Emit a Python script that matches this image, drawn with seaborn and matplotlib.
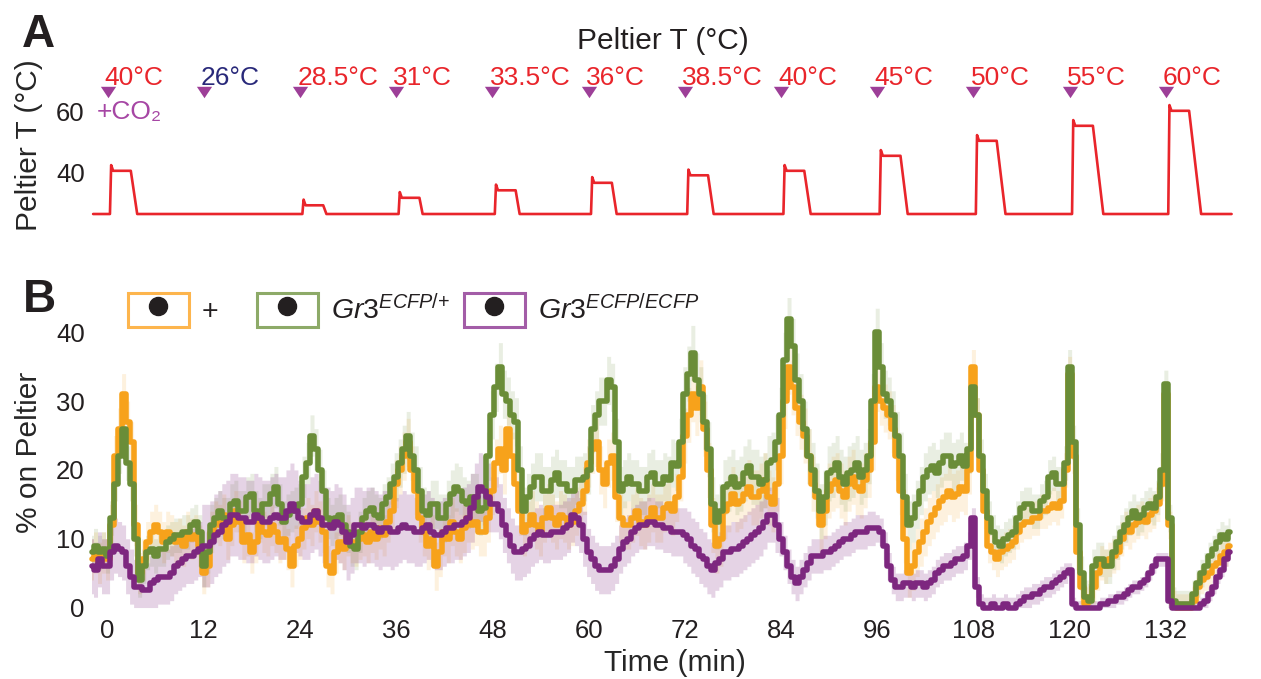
import numpy as np
import pandas as pd
import seaborn as sns
import matplotlib.pyplot as plt
from matplotlib.patches import Patch
from matplotlib.lines import Line2D
from matplotlib.legend_handler import HandlerTuple

sns.set_style('white')
plt.rcParams['font.family'] = ['Liberation Sans', 'DejaVu Sans']
plt.rcParams['mathtext.fontset'] = 'custom'
plt.rcParams['mathtext.it'] = 'Liberation Sans:italic'
plt.rcParams['mathtext.rm'] = 'Liberation Sans'
plt.rcParams['text.color'] = '#231F20'

# ---- panel A: Peltier steps ----
event_min = [0, 12, 24, 36, 48, 60, 72, 84, 96, 108, 120, 132]
event_temp = [40, 26, 28.5, 31, 33.5, 36, 38.5, 40, 45, 50, 55, 60]
event_label = ['40°C', '26°C', '28.5°C', '31°C', '33.5°C', '36°C',
               '38.5°C', '40°C', '45°C', '50°C', '55°C', '60°C']
fall_end = [3.7, 15.0, 27.3, 39.3, 51.4, 63.5, 75.6, 87.7, 99.8, 112.0, 124.2, 136.4]
peltier_base = 26
overshoot = 2.3
plateau_offset = 0.4

# ---- panel B: % on Peltier, every 0.5 min from -2 to 140 ----
time_min = np.arange(-2, 140.5, 0.5)

pct_plus = [7, 8, 6.5, 8,
            7, 12, 22, 26, 31, 27, 24, 12, 5, 7, 9.5, 11, 12, 11, 9.5, 11, 10.5, 9.5, 10, 9, 11, 10, 10.5, 9,
            5, 6, 11, 12.5, 12, 13.5, 10, 12, 14, 12.5, 9.5, 10.5, 8, 9.5, 12.5, 11, 10.5, 12, 11, 9.5, 10, 8.5, 6, 9,
            10, 11.5, 13, 12, 14, 12.5, 11, 6, 5, 8, 9.5, 8.5, 10.5, 9.5, 9, 10, 10.5, 9.5, 11, 10, 11.5, 10.5, 12.5, 14,
            18, 20, 22, 24, 20, 17, 13, 11, 9, 10, 6, 8, 11, 10, 12.5, 11, 10, 11.5, 13, 12, 12.5, 11, 11, 13,
            17, 21, 23, 20, 26, 22, 18, 14, 11, 12, 13.5, 12, 11, 13, 14.5, 13, 12, 13.5, 13, 12, 12.5, 14, 15, 17,
            21, 23, 24, 20, 18, 21, 22, 16, 13, 12, 12, 13, 14, 12.5, 12, 13, 14.5, 13, 13, 14.5, 15, 14, 16, 19,
            25, 28, 31, 29, 32, 26, 20, 12, 9, 10, 14, 15, 16.5, 15, 15.5, 16.5, 17.5, 16, 16, 17, 18.5, 16, 15, 18,
            22, 30, 35, 32, 29, 27, 25, 22, 18, 16, 12, 14, 17, 18, 18.5, 17, 16, 18, 19, 17.5, 17, 18.5, 20, 24,
            32, 30, 29, 28, 26, 22, 17, 10, 5, 6, 8, 9.5, 11, 12.5, 13.5, 14.5, 15.5, 16, 17, 16, 16.5, 17.5, 17, 20,
            35, 28, 20, 14, 9, 8, 7, 8, 8.5, 9, 9.5, 11, 12, 12.5, 12.5, 13, 13, 14, 14, 14.5, 15, 14.5, 15.5, 20,
            34, 22, 8, 3, 0.5, 1.5, 3, 5, 6.5, 6, 7, 7.5, 8, 10, 11.5, 11, 12, 12.5, 13, 12.5, 13.5, 14, 15, 18,
            31, 12, 0.5, 0, 0, 0, 0, 1, 3, 4, 4.5, 5, 6, 6.5, 7.5, 8, 9]

pct_het = [8, 9, 8, 8.5,
           7.5, 13, 18, 22, 26, 21, 18, 10, 4, 6, 8, 8.5, 7.5, 8.5, 8.5, 9.5, 10, 10.5, 10.5, 11, 11, 12, 12.5, 11,
           6, 8, 12, 13, 14, 13, 13, 15, 15.5, 14, 14, 16, 16.5, 14, 13, 15, 15, 16.5, 17.5, 15, 12.5, 13.5, 14, 14.5,
           15, 19, 21, 25, 23, 20, 17, 13, 12, 13, 13.5, 12, 11, 9, 8.5, 11, 13, 14, 14.5, 13.5, 13, 15, 16, 18,
           19, 21, 23, 25, 22, 20, 17, 14, 13.5, 15, 15, 13, 13, 15, 16.5, 17.5, 17, 15.5, 15, 16, 16, 14, 14.5, 22,
           28, 32, 35, 31, 30, 28, 27, 20, 14, 16, 17.5, 19, 19, 17, 17, 18.5, 19.5, 18, 18, 17, 17, 18.5, 18.5, 19,
           20, 26, 28, 30, 30, 33, 32, 24, 17, 18, 19, 18, 18, 17, 17, 19, 19.5, 18, 18, 19, 18.5, 21, 20.5, 24,
           31, 34, 37, 33, 31, 27, 23, 15, 12.5, 14, 17.5, 18, 19, 17.5, 18, 19.5, 20.5, 19, 19, 18, 18.5, 21, 21.5, 24,
           28, 36, 42, 38, 33, 30, 26, 22, 20, 17, 14, 16, 19.5, 20, 21, 19, 18, 19.5, 20, 21, 19, 20, 22, 30,
           40, 35, 31, 30, 28, 25, 22, 16, 12, 13, 15, 17, 19, 20, 20.5, 19.5, 21, 22, 22, 20.5, 21, 22, 20.5, 23,
           32, 28, 22, 17, 13, 11, 9.5, 9, 10, 10.5, 11, 13, 14.5, 15, 15, 14, 14, 15.5, 16, 19, 19.5, 18, 18, 21,
           35, 24, 12, 5, 1.5, 1, 6, 7, 7, 6, 6, 8, 9.5, 11, 12, 13, 14, 13, 13.5, 14.5, 15, 14.5, 16, 20,
           32.5, 13, 1, 0.5, 0.5, 0.5, 0.5, 2, 3.5, 5, 6, 7.5, 8.5, 9.5, 10.5, 10, 11]

pct_hom = [6, 5.5, 7, 6,
           6, 8, 9, 8.5, 8, 6, 4.5, 3, 3, 2.5, 2.5, 3.5, 4, 4.5, 4.5, 4.5, 5, 6, 6.5, 7, 7.5, 7.5, 8, 8.5,
           9, 9, 9.5, 10.5, 11, 12, 12.5, 13.5, 13.5, 13, 13, 12.5, 12.5, 13.5, 13, 12.5, 12.5, 13, 13.5, 13, 13, 14, 15, 14,
           13, 12.5, 12.5, 13.5, 14, 13, 12, 12, 11.5, 12.5, 12, 11, 9.5, 10.5, 12, 12, 11.5, 12, 12, 11.5, 11, 11.5, 11.5, 11,
           11, 11.5, 12, 11.5, 11.5, 11, 11, 11.5, 12, 11, 10.5, 10.5, 11, 11.5, 11.5, 12, 12, 12.5, 13, 14.5, 16, 17.5, 17, 16,
           15, 15, 14, 12, 10.5, 9, 8, 8, 8.5, 9, 10, 10.5, 11, 10.5, 10.5, 11, 11, 11, 11.5, 12, 13.5, 13, 12, 10,
           8, 7, 6, 5.5, 5.5, 5.5, 6, 7, 8.5, 9.5, 10, 11, 11.5, 12, 12, 12.5, 12.5, 12, 12, 11.5, 11.5, 11, 11, 11,
           10.5, 10, 9, 8.5, 7.5, 7, 6, 5.5, 6.5, 7, 8, 8, 8.5, 8.5, 9, 9.5, 10, 10.5, 11, 11.5, 12.5, 13.5, 13.5, 12,
           10, 8, 6, 4.5, 3.5, 4.5, 5.5, 6.5, 7.5, 7.5, 7.5, 8, 8, 8.5, 9, 9.5, 10, 10, 10.5, 11, 11, 11, 11.5, 11.5,
           11.5, 11, 9, 6, 4, 3, 3, 3.5, 3.5, 3, 3.5, 3.5, 3, 3.5, 4, 5, 5.5, 6, 6, 6.5, 7, 7, 7.5, 9,
           13, 3, 0.5, 0, 0, 0.5, 0, 0, 0.5, 0, 0, 0.5, 1, 1.5, 1.5, 2, 2, 2.5, 3, 3, 3.5, 4, 4.5, 5,
           5.5, 0.5, 0, 0, 0, 0, 0, 0, 0.5, 0.5, 1, 1, 1.5, 1.5, 2, 2.5, 3, 3, 3.5, 4, 5, 6, 7, 7,
           7, 1, 0, 0, 0, 0, 0, 0, 0, 0.5, 1, 2, 3, 4.5, 5.5, 7, 8]

# s.e.m. per 12-min block (one value per Peltier step)
sem_plus = [3, 3, 3, 3.5, 3.5, 3.5, 4, 4, 3.5, 2.5, 2.5, 2]
sem_het = [2.5, 3, 3, 3.5, 3.5, 3.5, 4, 4, 3.5, 2.5, 2.5, 2]
sem_hom = [4, 6, 5.5, 5, 4, 3.5, 4, 2.5, 2, 1.5, 1, 1]

genotypes = ['+', 'Gr3ECFP/+', 'Gr3ECFP/ECFP']
line_colors = ['#F7A21B', '#6A8D38', '#7D277F']
box_colors = ['#FDB54D', '#8DAA68', '#A35DA7']
band_alpha = [0.14, 0.14, 0.2]
legend_labels = ['+', r'$\mathit{Gr3}^{\mathit{ECFP/{+}}}$', r'$\mathit{Gr3}^{\mathit{ECFP/ECFP}}$']
legend_x = [128, 257, 464]

RED = '#E9252B'
NAVY = '#29297A'
MARK = '#9D3F98'
INK = '#231F20'

W, H = 1261, 679
fig = plt.figure(figsize=(W / 100, H / 100), dpi=100)
axA = fig.add_axes([87.5 / W, (H - 230) / H, 1146.5 / W, 170 / H])
axB = fig.add_axes([87.5 / W, (H - 615.8) / H, 1146.5 / W, 317.9 / H])

# panel A trace
pel_t = [-1.8]
pel_T = [peltier_base]
for on, temp, off in zip(event_min, event_temp, fall_end):
    if temp <= peltier_base:
        continue
    pel_t += [on + 0.3, on + 0.45, on + 0.7, on + 2.9, off]
    pel_T += [peltier_base, temp + overshoot, temp + plateau_offset,
              temp + plateau_offset, peltier_base]
pel_t.append(140.2)
pel_T.append(peltier_base)
pel = pd.DataFrame({'time': pel_t, 'temp': pel_T})
sns.lineplot(data=pel, x='time', y='temp', sort=False, estimator=None,
             color=RED, linewidth=1.9, ax=axA)

marks = pd.DataFrame({'time': event_min, 'y': [66.7] * len(event_min)})
sns.scatterplot(data=marks, x='time', y='y', ax=axA, color=MARK, s=120, linewidth=0,
                marker=[(-1, 0.75), (1, 0.75), (0, -0.75)], clip_on=False)
for t, lab, temp in zip(event_min, event_label, event_temp):
    axA.text(t - 0.35, 69, lab, fontsize=19, va='baseline', ha='left',
             color=NAVY if temp == peltier_base else RED)
axA.text(-1.3, 60, '+CO₂', fontsize=19, va='center', ha='left', color='#A646A4')

axA.set_xlim(-2.5, 140.5)
axA.set_ylim(20.67, 77.33)
axA.set_yticks([40, 60])
axA.set_xticks([])
axA.set_xlabel('')
axA.set_ylabel('Peltier T (°C)', fontsize=21.5)
axA.yaxis.set_label_coords(-0.0388, 0.5)
axA.tick_params(axis='y', length=0, pad=2, labelsize=18.5, labelcolor=INK)

# panel B traces
df = pd.DataFrame({
    'time': np.tile(time_min, 3),
    'pct': np.concatenate([pct_plus, pct_het, pct_hom]),
    'genotype': np.repeat(genotypes, len(time_min)),
})
seg = np.clip(np.searchsorted(event_min, time_min, side='right') - 1, 0, None)
for name, sem, c, a in zip(genotypes, [sem_plus, sem_het, sem_hom], line_colors, band_alpha):
    m = df.loc[df['genotype'] == name, 'pct'].to_numpy()
    s = np.array(sem)[seg]
    axB.fill_between(time_min, np.clip(m - s, 0, None), m + s, step='mid',
                     color=c, alpha=a, linewidth=0)
sns.lineplot(data=df, x='time', y='pct', hue='genotype', hue_order=genotypes,
             palette=dict(zip(genotypes, line_colors)), drawstyle='steps-mid',
             linewidth=4.0, legend=False, errorbar=None, ax=axB)

axB.set_xlim(-2.5, 140.5)
axB.set_ylim(-1.2, 45)
axB.set_xticks(event_min)
axB.set_yticks([0, 10, 20, 30, 40])
axB.tick_params(length=0, labelsize=18.5, labelcolor=INK)
axB.tick_params(axis='x', pad=2)
axB.tick_params(axis='y', pad=2)
axB.set_xlabel('Time (min)', fontsize=21.5)
axB.set_ylabel('% on Peltier', fontsize=21.5)
axB.xaxis.set_label_coords(0.512, -0.105)
axB.yaxis.set_label_coords(-0.0388, 0.515)

# legend: one entry per box so each sits where the original puts it
for ec, lab, lx in zip(box_colors, legend_labels, legend_x):
    h = (Patch(facecolor='white', edgecolor=ec, linewidth=2.2),
         Line2D([], [], ls='', marker='o', color=INK, markersize=13))
    fig.legend([h], [lab], loc='center left', bbox_to_anchor=(lx / W, 1 - 310 / H),
               frameon=False, fontsize=20.5, handlelength=2.14, handleheight=1.44,
               handletextpad=0.45, borderpad=0, borderaxespad=0,
               handler_map={tuple: HandlerTuple(ndivide=1, pad=0)})

sns.despine(fig=fig, left=True, bottom=True)

fig.text(22 / W, 1 - 47 / H, 'A', fontsize=33, fontweight='bold', va='baseline')
fig.text(23 / W, 1 - 312 / H, 'B', fontsize=33, fontweight='bold', va='baseline')
fig.text(663 / W, 1 - 41 / H, 'Peltier T (°C)', fontsize=21.5, ha='center', va='center')

fig.savefig('out.png', dpi=100)
